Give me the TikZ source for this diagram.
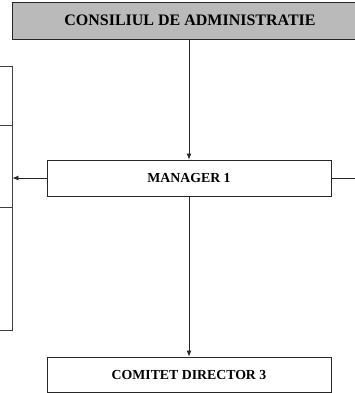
\documentclass[tikz,border=0pt]{standalone}
\usepackage{fontspec}
\setmainfont{Liberation Serif}
\usetikzlibrary{arrows.meta}

\begin{document}
\begin{tikzpicture}[x=1pt,y=-1pt,
  box/.style={draw=black!85,line width=0.8pt,fill=white,inner sep=0pt,
    minimum width=284pt,minimum height=36pt,font=\bfseries\fontsize{13.8}{16}\selectfont},
  side/.style={draw=black!75,line width=0.8pt,minimum width=40pt,inner sep=0pt},
  link/.style={draw=black!85,line width=0.8pt},
  arr/.style={link,-{Latex[length=6pt,width=5pt]}}]
\useasboundingbox (0,0) rectangle (355,393);
\clip (0,0) rectangle (355,393);
% top box
\node[box,fill=black!27,minimum width=356pt,minimum height=37pt,
  font=\bfseries\fontsize{16}{18}\selectfont] (consiliu) at (190,20.5) {CONSILIUL DE ADMINISTRATIE};
\node[box] (manager) at (189,178) {MANAGER 1};
\node[box,minimum height=35pt] (comitet) at (189,374.5) {COMITET DIRECTOR 3};
% boxes cut off at the left
\node[side,minimum height=59pt] (stanga1) at (-8,95.5) {};
\node[side,minimum height=82pt] (stanga2) at (-8,166) {};
\node[side,minimum height=123pt] (stanga3) at (-8,268.5) {};
\coordinate (dreapta) at (360,178);
% connectors
\draw[arr] (consiliu.south -| manager.north) -- (manager.north);
\draw[arr] (manager.south) -- (comitet.north);
\draw[arr] (manager.west) -- (manager.west -| stanga2.east);
\draw[link] (manager.east) -- (dreapta);
\end{tikzpicture}
\end{document}
